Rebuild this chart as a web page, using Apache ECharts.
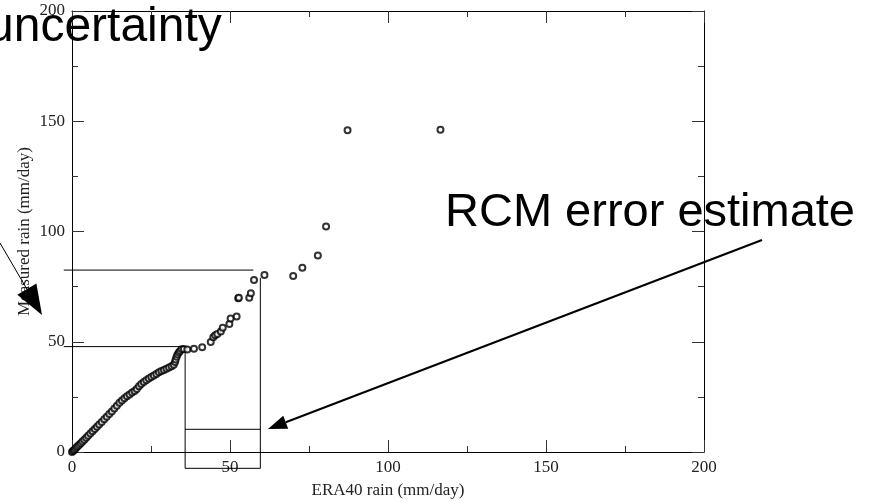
<!DOCTYPE html>
<html>
<head>
<meta charset="utf-8">
<script src="https://cdn.jsdelivr.net/npm/echarts@6/dist/echarts.min.js"></script>
<style>
  html, body { margin: 0; padding: 0; background: #fff; }
  #chart { width: 870px; height: 501px; }
</style>
</head>
<body>
<div id="chart"></div>
<script>
// ERA40 vs gemessener Niederschlag (Quantile)
const era40 = [0, 0.3, 0.6, 1, 1.4, 1.8, 2.3, 2.8, 3.3, 3.9, 4.5, 5.1, 5.8, 6.5, 7.2, 7.9, 8.6, 9.4, 10.2, 11,
  11.8, 12.6, 13.4, 14.2, 15, 15.8, 16.6, 17.4, 18.2, 19, 19.8, 20.5, 21.2, 21.9, 22.7, 23.5, 24.3, 25.1, 25.9, 26.7,
  27.5, 28.3, 29.1, 29.9, 30.7, 31.5, 32.2, 32.6, 32.8, 33.1, 33.4, 33.8, 34.2, 34.7, 35.4,
  36.5, 38.6, 41.2, 43.9, 44.7, 45.3, 46, 47.1, 47.7, 49.8, 50.2, 52.1, 52.6, 52.8, 56.1, 56.6, 57.6, 60.9,
  70, 72.9, 77.8, 80.4, 87.2, 116.6];
const measured = [0, 0.4, 0.8, 1.4, 2, 2.6, 3.3, 4, 4.8, 5.6, 6.5, 7.4, 8.4, 9.4, 10.4, 11.4, 12.5, 13.6, 14.8, 16,
  17.2, 18.4, 19.7, 21, 22.3, 23.4, 24.4, 25.3, 26.1, 27, 27.7, 28.6, 29.8, 30.8, 31.7, 32.5, 33.3, 34, 34.7, 35.4,
  36.2, 36.7, 37.2, 37.7, 38.3, 38.9, 39.6, 40.8, 42, 43.2, 44.2, 45.1, 45.8, 46.6, 46.7,
  46.5, 46.8, 47.5, 49.9, 52, 53, 53.5, 54.6, 56.4, 58, 60.6, 61.4, 69.7, 69.9, 70, 72, 78, 80.3,
  79.8, 83.6, 89.1, 102.3, 145.9, 146.2];

// Markierungen (Datenwerte)
const obsRange = [47.8, 82.5];   // gemessene Werte
const modRange = [35.8, 59.6];   // ERA40 Werte
const errLevel = 10.3;

const axisTicks = [0, 50, 100, 150, 200];

const points = era40.map((x, i) => [x, measured[i]]);

const chartDom = document.getElementById('chart');
const myChart = echarts.init(chartDom);

const serif = 'Liberation Serif';
const labelStyle = { fontFamily: serif, fontSize: 17, color: '#222' };

function makeAxis(pos, name, nameGap, showLabel) {
  return {
    type: 'value',
    position: pos,
    min: axisTicks[0],
    max: axisTicks[axisTicks.length - 1],
    interval: 50,
    name: name,
    nameLocation: 'middle',
    nameGap: nameGap,
    nameMoveOverlap: false,
    nameTextStyle: { fontFamily: serif, fontSize: 17, color: '#222' },
    axisLine: { show: true, onZero: false, lineStyle: { color: '#000', width: 1 } },
    axisTick: { show: true, inside: true, length: 12, lineStyle: { color: '#333', width: 1 } },
    minorTick: { show: true, splitNumber: 2, length: 6, lineStyle: { color: '#333', width: 1 } },
    splitLine: { show: false },
    axisLabel: Object.assign({ show: showLabel, margin: 7 }, labelStyle)
  };
}

const option = {
  animation: false,
  backgroundColor: '#fff',
  grid: { left: 72, right: 166, top: 11, bottom: 49, outerBoundsMode: 'none' },
  xAxis: [
    makeAxis('bottom', 'ERA40 rain (mm/day)', 30, true),
    makeAxis('top', '', 0, false)
  ],
  yAxis: [
    makeAxis('left', 'Measured rain (mm/day)', 39, true),
    makeAxis('right', '', 0, false)
  ],
  series: [{
    type: 'scatter',
    xAxisIndex: 0,
    yAxisIndex: 0,
    data: points,
    symbol: 'emptyCircle',
    symbolSize: 6,
    itemStyle: { color: '#000', borderColor: '#000', borderWidth: 1.4 },
    z: 3
  }]
};

myChart.setOption(option);

// Hilfslinien und Pfeile
const px = (x, y) => myChart.convertToPixel({ xAxisIndex: 0, yAxisIndex: 0 }, [x, y]);

function seg(a, b, w) {
  return {
    type: 'line', z: 10,
    shape: { x1: a[0], y1: a[1], x2: b[0], y2: b[1] },
    style: { stroke: '#000', lineWidth: w || 1 }
  };
}

function arrow(tail, tip, len, half, w) {
  const dx = tip[0] - tail[0], dy = tip[1] - tail[1];
  const d = Math.sqrt(dx * dx + dy * dy);
  const ux = dx / d, uy = dy / d;
  const bx = tip[0] - ux * len, by = tip[1] - uy * len;
  return [
    seg(tail, [bx, by], w),
    {
      type: 'polygon', z: 11,
      shape: { points: [tip, [bx - uy * half, by + ux * half], [bx + uy * half, by - ux * half]] },
      style: { fill: '#000' }
    }
  ];
}

const below = -7.4;   // unter der x-Achse
const leftOut = -2.6; // links der y-Achse

const graphics = [
  seg(px(leftOut, obsRange[1]), px(modRange[1] - 2.2, obsRange[1])),
  seg(px(leftOut, obsRange[0]), px(modRange[0], obsRange[0])),
  seg(px(modRange[0], obsRange[0] - 2.5), px(modRange[0], below)),
  seg(px(modRange[1], obsRange[1] - 3.5), px(modRange[1], below)),
  seg(px(modRange[0], errLevel), px(modRange[1], errLevel)),
  seg(px(modRange[0], below), px(modRange[1], below)),
  ...arrow([762, 240], [268, 429], 19, 7, 2),
  ...arrow([0, 243], [42, 315], 30, 11, 1),
  {
    type: 'text', z: 12, x: -13, y: 52,
    style: { text: 'uncertainty', fontFamily: 'Liberation Sans', fontSize: 48, fill: '#000', textVerticalAlign: 'bottom' }
  },
  {
    type: 'text', z: 12, x: 445, y: 237,
    style: { text: 'RCM error estimate', fontFamily: 'Liberation Sans', fontSize: 47, fill: '#000', textVerticalAlign: 'bottom' }
  }
];

myChart.setOption({ graphic: graphics });

window.addEventListener('resize', () => {
  myChart.resize();
});
</script>
</body>
</html>
